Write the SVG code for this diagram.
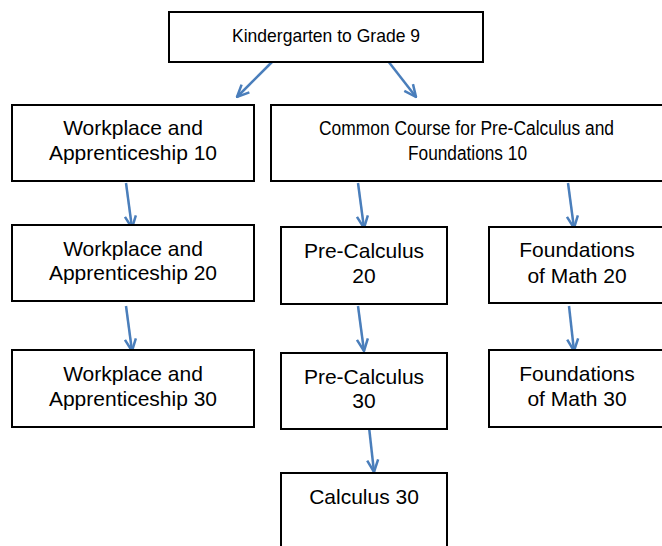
<svg xmlns="http://www.w3.org/2000/svg" width="662" height="546" viewBox="0 0 662 546">
<style>
.box{fill:#fff;stroke:#000;stroke-width:2}
.t{font-family:"Liberation Sans",Arial,sans-serif;font-size:21px;fill:#000;text-anchor:middle}
.n{font-family:"Liberation Sans",Arial,sans-serif;fill:#000;text-anchor:middle}
.c{fill:none;stroke:#4a7ebb;stroke-width:2.5;marker-end:url(#ah)}
</style>
<defs>
<marker id="ah" viewBox="0 0 14 14" refX="13" refY="7" markerWidth="14" markerHeight="14" markerUnits="userSpaceOnUse" orient="auto">
<path d="M1,1.5 L13,7 L1,12.5" fill="none" stroke="#4a7ebb" stroke-width="2.5" stroke-linejoin="miter"/>
</marker>
</defs>
<rect width="662" height="546" fill="#fff"/>
<g id="connectors">
<line class="c" x1="273" y1="61" x2="237" y2="97"/>
<line class="c" x1="388" y1="61" x2="416" y2="97"/>
<line class="c" x1="126" y1="183" x2="132" y2="228"/>
<line class="c" x1="126" y1="306" x2="132" y2="351"/>
<line class="c" x1="358" y1="183" x2="364" y2="228"/>
<line class="c" x1="568" y1="183" x2="574" y2="228"/>
<line class="c" x1="358" y1="306" x2="364" y2="351"/>
<line class="c" x1="569" y1="306" x2="574" y2="351"/>
<line class="c" x1="369" y1="427" x2="374" y2="472"/>
</g>
<g id="k9">
<rect class="box" x="169" y="12" width="314" height="50"/>
<text class="n" x="326" y="42" font-size="18.5" textLength="188" lengthAdjust="spacingAndGlyphs">Kindergarten to Grade 9</text>
</g>
<g id="wa10">
<rect class="box" x="12" y="105" width="242" height="76"/>
<text class="t" x="133" y="135">Workplace and</text>
<text class="t" x="133" y="160">Apprenticeship 10</text>
</g>
<g id="common10">
<rect class="box" x="271" y="105" width="394" height="76"/>
<text class="n" x="466.5" y="135" font-size="20" textLength="295" lengthAdjust="spacingAndGlyphs">Common Course for Pre-Calculus and</text>
<text class="n" x="467.5" y="160" font-size="20" textLength="119" lengthAdjust="spacingAndGlyphs">Foundations 10</text>
</g>
<g id="wa20">
<rect class="box" x="12" y="225" width="242" height="76"/>
<text class="t" x="133" y="256">Workplace and</text>
<text class="t" x="133" y="280">Apprenticeship 20</text>
</g>
<g id="pc20">
<rect class="box" x="281" y="227" width="166" height="77"/>
<text class="t" x="364" y="258">Pre-Calculus</text>
<text class="t" x="364" y="283">20</text>
</g>
<g id="fm20">
<rect class="box" x="489" y="227" width="178" height="76"/>
<text class="t" x="577" y="257">Foundations</text>
<text class="t" x="577" y="283">of Math 20</text>
</g>
<g id="wa30">
<rect class="box" x="12" y="350" width="242" height="77"/>
<text class="t" x="133" y="381">Workplace and</text>
<text class="t" x="133" y="406">Apprenticeship 30</text>
</g>
<g id="pc30">
<rect class="box" x="281" y="353" width="166" height="76"/>
<text class="t" x="364" y="384">Pre-Calculus</text>
<text class="t" x="364" y="408">30</text>
</g>
<g id="fm30">
<rect class="box" x="489" y="350" width="178" height="77"/>
<text class="t" x="577" y="381">Foundations</text>
<text class="t" x="577" y="406">of Math 30</text>
</g>
<g id="calc30">
<rect class="box" x="281" y="473" width="166" height="90"/>
<text class="t" x="364" y="504">Calculus 30</text>
</g>
</svg>
